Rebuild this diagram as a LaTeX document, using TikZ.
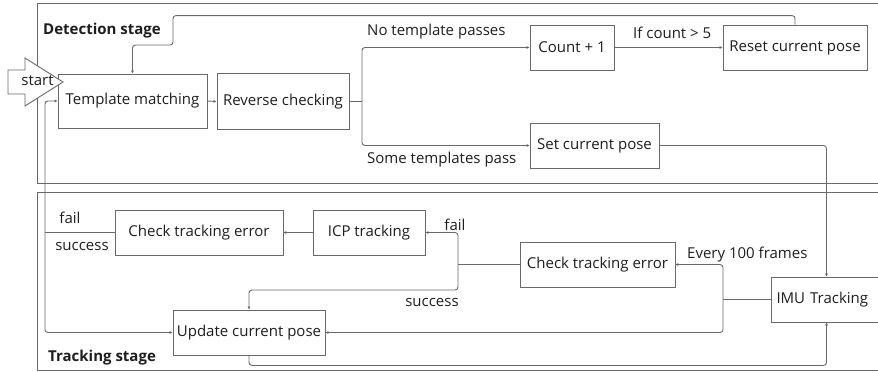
\documentclass[tikz,border=0pt]{standalone}
\usepackage{fontspec}
\setmainfont{Open Sans}
\usepackage{tikz}
\usetikzlibrary{shapes, arrows.meta, positioning}
\definecolor{linegray}{RGB}{105,105,105}
\definecolor{textgray}{RGB}{30,30,30}
\tikzstyle{block} = [draw=linegray, fill=white, rectangle, line width=0.9pt, inner sep=2pt, minimum height=45pt, text=textgray]
\tikzstyle{lbl} = [inner sep=0pt, text=textgray]
\tikzstyle{stage} = [inner sep=0pt, text=textgray, font=\fontsize{15}{18}\selectfont\bfseries]
\tikzstyle{frame} = [draw=linegray, line width=1pt]
\tikzstyle{line} = [draw=linegray, line width=0.9pt, rounded corners=3pt]

\begin{document}
\begin{tikzpicture}[x=1pt, y=-1pt, >={Latex[length=3pt,width=3pt]}, font=\fontsize{15}{18}\selectfont]
    \useasboundingbox (0,0) rectangle (878,372);
    % stages
    \draw [frame] (37,3) rectangle (884,183);
    \draw [frame] (37,192) rectangle (884,370);
    \node [stage, anchor=west] (detlbl) at (43,31) {Detection stage};
    \node [stage, anchor=west] (trklbl) at (48,358) {Tracking stage};

    % detection stage
    \node [block, minimum width=149pt, minimum height=54pt] (tm) at (132.5,101) {Template matching};
    \node [block, minimum width=132pt, minimum height=56pt] (rc) at (283,101.5) {Reverse checking};
    \node [block, minimum width=84pt] (cnt) at (572,47.5) {Count + 1};
    \node [block, minimum width=144pt] (rst) at (795,47.5) {Reset current pose};
    \node [block, minimum width=129pt] (scp) at (594.5,145.5) {Set current pose};

    % start arrow
    \draw [draw=linegray, fill=white, line width=0.9pt] (8,70) -- (25,70) -- (25,58) -- (63,82)
        -- (25,106) -- (25,94) -- (8,94) -- cycle;
    \node [lbl] (start) at (37.5,81) {start};

    % tracking stage
    \node [block, minimum width=111pt, text width=100pt, align=left] (imu) at (826.5,299.5) {IMU Tracking};
    \node [block, minimum width=155pt] (cter) at (597.5,264.5) {Check tracking error};
    \node [block, minimum width=112pt] (icp) at (369,232.5) {ICP tracking};
    \node [block, minimum width=168pt] (ctel) at (199,232.5) {Check tracking error};
    \node [block, minimum width=152pt] (upd) at (249,332.5) {Update current pose};

    \coordinate (br) at (362,101.5);
    \coordinate (ib) at (723,299.5);
    \coordinate (cb) at (458,264.5);
    \coordinate (lb) at (45,232.5);

    \draw [line, ->] (tm.east) -- (rc.west);
    \draw [line] (rc.east) -- (br);
    \draw [line, ->] (br) |- (cnt.west);
    \draw [line, ->] (br) |- (scp.west);
    \draw [line, ->] (cnt.east) -- (rst.west);
    \draw [line, ->] (rst.north) -- ++(0,-9) -| (173,45) -| (tm.north);
    \draw [line, ->] (scp.east) -| (imu.north);

    \draw [line] (imu.west) -- (ib);
    \draw [line, ->] (ib) |- (cter.east);
    \draw [line, ->] (ib) |- (upd.east);
    \draw [line] (cter.west) -- (cb);
    \draw [line, ->] (cb) |- (icp.east);
    \draw [line, ->] (cb) -- (458,290) -| (upd.north);
    \draw [line, ->] (icp.west) -- (ctel.east);
    \draw [line] (ctel.west) -- (lb);
    \draw [line, ->] (lb) |- (tm.west);
    \draw [line, ->] (lb) |- (upd.west);
    \draw [line, ->] (upd.south) -- ++(0,10) -| (imu.south);

    % labels
    \node [lbl, anchor=west] (nopass) at (367,32) {No template passes};
    \node [lbl, anchor=west] (somepass) at (367,160) {Some templates pass};
    \node [lbl, anchor=west] (cntlbl) at (633,33) {If count > 5};
    \node [lbl, anchor=west] (every) at (687,255) {Every 100 frames};
    \node [lbl] (failr) at (455,225) {fail};
    \node [lbl] (succr) at (432,302) {success};
    \node [lbl] (faill) at (70,218) {fail};
    \node [lbl] (succl) at (82,246) {success};
\end{tikzpicture}
\end{document}
